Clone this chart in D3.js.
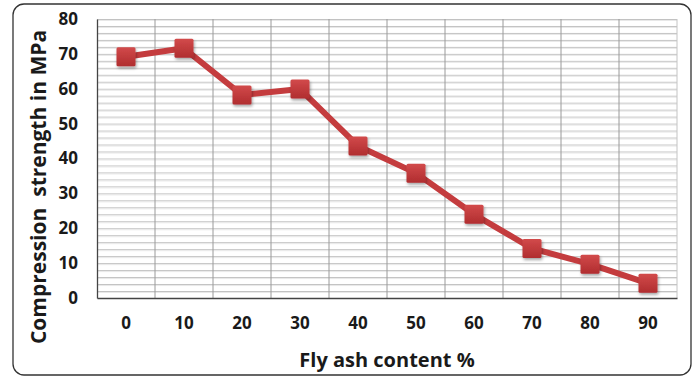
<!DOCTYPE html>
<html>
<head>
<meta charset="utf-8">
<script src="https://cdn.jsdelivr.net/npm/d3@7"></script>
<style>
  html, body { margin: 0; padding: 0; background: #fff; }
  svg { display: block; }
  text { font-family: "Open Sans", Lato, sans-serif; font-weight: bold; fill: #1a1a1a; }
</style>
</head>
<body>
<svg id="chart" width="697" height="379"></svg>
<script>
const categories = ["0", "10", "20", "30", "40", "50", "60", "70", "80", "90"];
const strength = [69.2, 71.6, 58.2, 59.9, 43.6, 35.8, 24.0, 14.2, 9.7, 4.2];
const yTicks = [0, 10, 20, 30, 40, 50, 60, 70, 80];
const yMinorStep = 2;
const xTitle = "Fly ash content %";
const yTitle = "Compression  strength in MPa";

const svg = d3.select("#chart");
const W = 697, H = 379;
const m = { left: 97, right: 20, top: 19, bottom: 81 };
const x0 = m.left, x1 = W - m.right, y0 = H - m.bottom, y1 = m.top;

const defs = svg.append("defs");
const grad = defs.append("linearGradient").attr("id", "mk").attr("x1", 0).attr("y1", 0).attr("x2", 0).attr("y2", 1);
grad.append("stop").attr("offset", "0%").attr("stop-color", "#d24a4b");
grad.append("stop").attr("offset", "100%").attr("stop-color", "#b02d2f");
const f = defs.append("filter").attr("id", "sh").attr("x", "-40%").attr("y", "-40%").attr("width", "180%").attr("height", "180%");
f.append("feDropShadow").attr("dx", 1).attr("dy", 2).attr("stdDeviation", 1.5).attr("flood-color", "#000").attr("flood-opacity", 0.35);

// frame
svg.append("rect").attr("x", 13).attr("y", 4).attr("width", 678).attr("height", 371)
  .attr("rx", 11).attr("fill", "#fff").attr("stroke", "#333").attr("stroke-width", 1.3);

const x = d3.scaleBand().domain(categories).range([x0, x1]).padding(0);
const y = d3.scaleLinear().domain([0, 80]).range([y0, y1]);

// horizontal gridlines
const minor = d3.range(0, 80 + 0.001, yMinorStep);
const g = svg.append("g");
minor.forEach(v => {
  if (v === 0) return;
  g.append("line").attr("x1", x0).attr("x2", x1).attr("y1", y(v) + 0.5).attr("y2", y(v) + 0.5)
    .attr("stroke", "#c2c2c2").attr("stroke-width", 1);
  g.append("line").attr("x1", x0).attr("x2", x1).attr("y1", y(v) + 1.5).attr("y2", y(v) + 1.5)
    .attr("stroke", "#e8e8e8").attr("stroke-width", 1);
});
// vertical gridlines at category boundaries
categories.forEach((c, i) => {
  const xv = x(c) + x.bandwidth();
  g.append("line").attr("x1", xv).attr("x2", xv).attr("y1", y1).attr("y2", y0)
    .attr("stroke", i === categories.length - 1 ? "#c4c4c4" : "#9a9a9a").attr("stroke-width", 1);
});

// axes
const yAxis = d3.axisLeft(y).tickValues(yTicks).tickSize(0).tickPadding(19);
const gy = svg.append("g").attr("transform", `translate(${x0},0)`).call(yAxis);
gy.select(".domain").attr("stroke", "#444").attr("stroke-width", 1.3);
gy.selectAll("text").style("font-size", "17px").attr("fill", "#1a1a1a");

const xAxis = d3.axisBottom(x).tickSize(0).tickPadding(19);
const gx = svg.append("g").attr("transform", `translate(0,${y0})`).call(xAxis);
gx.select(".domain").attr("stroke", "#444").attr("stroke-width", 1.3);
gx.selectAll("text").style("font-size", "17px").attr("fill", "#1a1a1a");

// line
const line = d3.line().x((d, i) => x(categories[i]) + x.bandwidth() / 2).y(d => y(d));
svg.append("path").datum(strength).attr("d", line).attr("fill", "none")
  .attr("stroke", "#c43c3e").attr("stroke-width", 6).attr("stroke-linejoin", "round");

// markers
const ms = 19;
svg.append("g").selectAll("rect").data(strength).join("rect")
  .attr("x", (d, i) => x(categories[i]) + x.bandwidth() / 2 - ms / 2)
  .attr("y", d => y(d) - ms / 2)
  .attr("width", ms).attr("height", ms).attr("rx", 1.5)
  .attr("fill", "url(#mk)").attr("filter", "url(#sh)");

// titles
svg.append("text").attr("x", (x0 + x1) / 2).attr("y", 367).attr("text-anchor", "middle")
  .style("font-size", "20px").text(xTitle);
svg.append("text").attr("transform", "translate(46,187) rotate(-90)").attr("text-anchor", "middle")
  .style("font-size", "21px").style("white-space", "pre").text(yTitle);
</script>
</body>
</html>
